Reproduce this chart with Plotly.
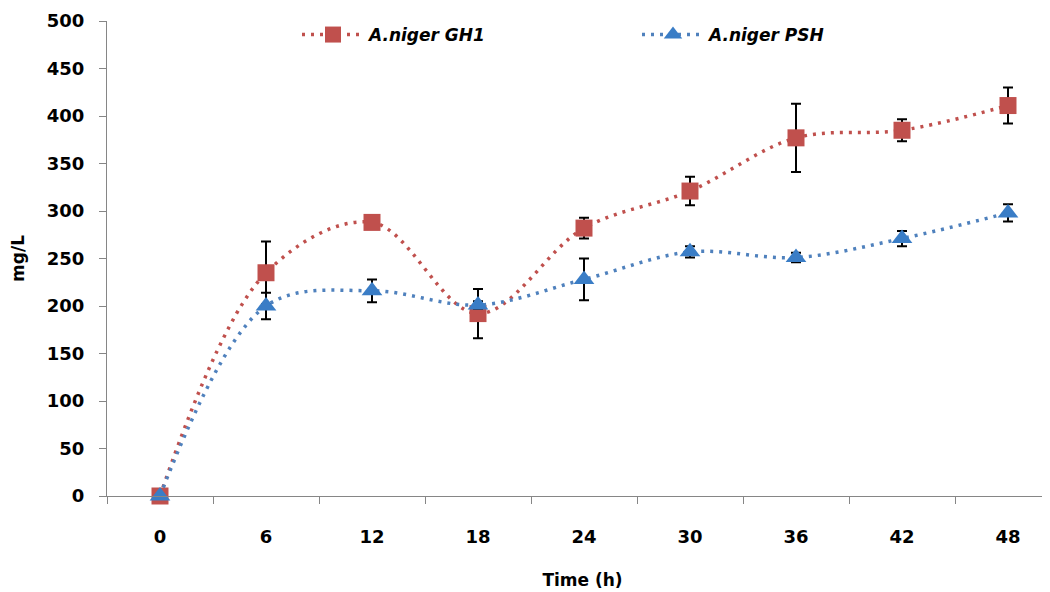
import plotly.graph_objects as go

time_labels = ["0", "6", "12", "18", "24", "30", "36", "42", "48"]
gh1_values = [0, 235, 288, 192, 282, 321, 377, 385, 411]
gh1_errors = [0, 33, 3, 26, 11, 15, 36, 11.5, 19]
psh_values = [0, 200, 216, 201, 228, 257, 251, 271, 298]
psh_errors = [0, 14, 12, 4, 22, 6, 5, 8, 9]

x_idx = list(range(len(time_labels)))

fig = go.Figure()
fig.add_trace(go.Scatter(
    x=x_idx, y=gh1_values, name="A.niger GH1", mode="lines+markers",
    line=dict(color="#C0504D", width=3.5, dash="3px,6px", shape="spline", smoothing=1),
    marker=dict(symbol="square", size=17, color="#C0504D"),
    error_y=dict(type="data", array=gh1_errors, visible=True, color="black", thickness=2, width=5),
    cliponaxis=False,
))
fig.add_trace(go.Scatter(
    x=x_idx, y=psh_values, name="A.niger PSH", mode="lines+markers",
    line=dict(color="#4F81BD", width=3.5, dash="3px,6px", shape="spline", smoothing=1),
    marker=dict(symbol="triangle-up", size=18, color="#3A7DC6"),
    error_y=dict(type="data", array=psh_errors, visible=True, color="black", thickness=2, width=5),
    cliponaxis=False,
))

tick_font = dict(family="DejaVu Sans", size=18, color="black", weight="bold")
title_font = dict(family="DejaVu Sans", size=17, color="black", weight="bold")

fig.update_layout(
    width=1050, height=592,
    margin=dict(l=99, r=0, t=13, b=104),
    plot_bgcolor="white", paper_bgcolor="white",
    showlegend=True,
    legend=dict(
        orientation="h", x=(297 - 107) / 951, xanchor="left", y=1 - (35 - 21) / 475, yanchor="middle",
        font=dict(family="DejaVu Sans", size=17, color="black", weight="bold", style="italic"),
        itemwidth=62, entrywidth=263, entrywidthmode="pixels", bgcolor="rgba(0,0,0,0)",
    ),
    xaxis=dict(
        range=[-0.5, -0.5 + 951 / 106], tickvals=x_idx, ticktext=time_labels,
        showgrid=False, zeroline=False, showline=True, linecolor="#868686", linewidth=1,
        ticks="", tickfont=tick_font, ticklabelstandoff=24, automargin=False,
        minor=dict(tickvals=[i - 0.5 for i in range(len(time_labels) + 1)], ticks="outside",
                   ticklen=7, tickcolor="#868686", showgrid=False),
        title=dict(text="Time (h)", font=title_font, standoff=28),
    ),
    yaxis=dict(
        range=[0, 500], tickvals=list(range(0, 501, 50)),
        showgrid=False, zeroline=False, showline=True, linecolor="#868686", linewidth=1,
        ticks="outside", ticklen=7, tickcolor="#868686", tickfont=tick_font,
        ticklabelstandoff=11, automargin=False,
        title=dict(text="mg/L", font=title_font, standoff=20),
    ),
)

fig.write_html("out.html")
